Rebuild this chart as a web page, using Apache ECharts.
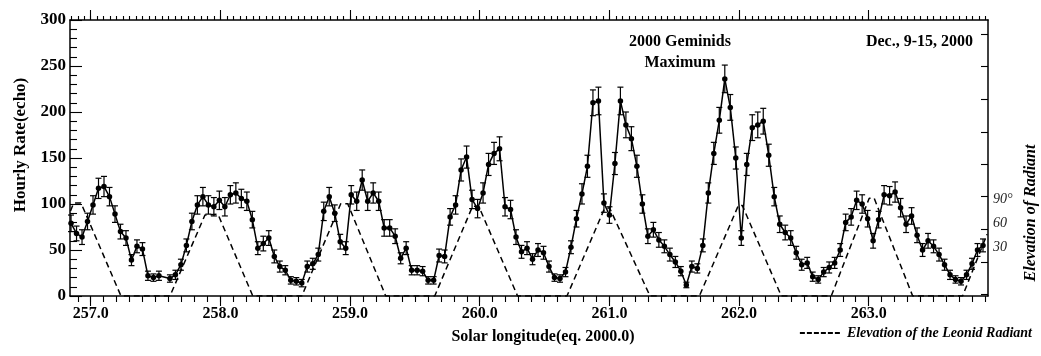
<!DOCTYPE html>
<html>
<head>
<meta charset="utf-8">
<script src="https://cdn.jsdelivr.net/npm/echarts@6/dist/echarts.min.js"></script>
<style>
html,body{margin:0;padding:0;background:#fff;}
#chart{width:1041px;height:356px;}
</style>
</head>
<body>
<div id="chart"></div>
<script>
// ---- data ----
// hourly echo rate, one value per hour starting at solar longitude startLon
const startLon = 256.848;
const lonPerHour = 0.04237;
const hourlyRate = [
  79,68,64,81,99,117,119,108,89,70,63,39,54,51,22,20,22,null,19,23,
  34,55,81,99,108,99,97,104,97,110,112,106,103,83,52,57,63,43,32,28,
  17,16,14,32,35,45,92,108,90,59,52,110,103,126,103,112,103,74,74,65,
  41,52,28,28,27,17,17,44,43,86,99,137,151,105,95,112,143,155,160,97,
  94,64,48,52,40,50,47,32,20,19,26,53,84,111,141,210,212,101,88,144,
  212,186,171,141,100,65,72,61,54,45,37,27,12,32,30,55,112,155,191,236,
  205,150,63,143,183,186,190,153,108,78,69,63,47,34,36,21,18,26,31,36,
  50,80,86,104,100,84,60,83,110,109,113,96,78,87,66,50,60,54,45,34,
  23,18,16,23,35,50,55
];
const rateError = [
  9,8,8,9,10,11,11,10,9,8,8,6,7,7,5,4,5,null,4,5,
  6,7,9,10,10,10,10,10,10,10,11,10,10,9,7,8,8,7,6,5,
  4,4,4,6,6,7,10,10,9,8,7,10,10,11,10,11,10,9,9,8,
  6,7,5,5,5,4,4,7,7,9,10,12,12,10,10,11,12,12,13,10,
  10,8,7,7,6,7,7,6,4,4,5,7,9,11,12,14,15,10,9,12,
  15,14,13,12,10,8,8,8,7,7,6,5,3,6,5,7,11,12,14,15,
  14,12,8,12,14,14,14,12,10,9,8,8,7,6,6,5,4,5,6,6,
  7,9,9,10,10,9,8,9,10,10,11,10,9,9,8,7,8,7,7,6,
  5,4,4,5,6,7,7
];
// elevation of the Leonid radiant (degrees), vertices of the dashed curve
const elevLon = [
  256.844,256.868,256.925,257.233,
  257.611,257.881,257.981,258.250,
  258.628,258.928,258.982,259.275,
  259.653,259.945,259.992,260.292,
  260.673,260.962,261.001,261.313,
  261.694,261.995,262.025,262.326,
  262.711,263.004,263.042,263.339,
  263.724,263.913
];
const elevDeg = [
  75,85,85,-31.25,
  -31.25,70,71,-31.25,
  -31.25,84,84,-31.25,
  -31.25,81,81,-31.25,
  -31.25,78,79,-31.25,
  -31.25,82,82,-31.25,
  -31.25,91,91,-31.25,
  -31.25,46
];
const xTickLabels = [257,258,259,260,261,262,263];
const rightLabels = [30,60,90];
const rightTicks = [-29,11,52,93,133,174,215,256,296];

// ---- axis decoration ----
const xMin = 256.84, xMax = 263.92;
const bottomMinor = [], topMinor = [];
for (let k = 25685; k <= 26390; k += 5) {
  const v = k / 100;
  topMinor.push(v);
  if (k % 10 === 0) bottomMinor.push(v);
}
const FONT = '"Liberation Serif", "DejaVu Serif", serif';
const BLACK = '#000';
const DASH_ICON = 'path://M0,0H5V2H0Z M7,0H12V2H7Z M14,0H19V2H14Z M21,0H26V2H21Z M28,0H33V2H28Z M35,0H40V2H35Z';

const rateData = hourlyRate.map((v, i) => [startLon + i * lonPerHour, v]);
const errData = [];
hourlyRate.forEach((v, i) => {
  if (v !== null) errData.push([startLon + i * lonPerHour, v - rateError[i], v + rateError[i]]);
});
const elevData = elevLon.map((x, i) => [x, elevDeg[i]]);

const axisLineStyle = {color: BLACK, width: 1.5};
const tickStyle = {color: BLACK, width: 1.1};

function xAx(pos, ticks, len, showLine, showLabels) {
  return {
    type: 'value', min: xMin, max: xMax, position: pos,
    axisLine: {show: showLine, onZero: false, lineStyle: axisLineStyle},
    axisTick: {show: true, customValues: ticks, length: len, lineStyle: tickStyle},
    axisLabel: showLabels ? {
      show: true, customValues: ticks, formatter: v => v.toFixed(1),
      color: BLACK, fontFamily: FONT, fontWeight: 'bold', fontSize: 16, margin: 10
    } : {show: false},
    splitLine: {show: false}
  };
}

const chart = echarts.init(document.getElementById('chart'), null, {renderer: 'canvas'});
chart.setOption({
  animation: false,
  backgroundColor: '#fff',
  grid: {left: 70, right: 53, top: 20, bottom: 60, containLabel: false},
  xAxis: [
    xAx('bottom', xTickLabels, 10, true, true),
    xAx('bottom', bottomMinor, 6, false, false),
    xAx('top', xTickLabels, 10, true, false),
    xAx('top', topMinor, 4, false, false)
  ],
  yAxis: [
    {
      type: 'value', min: 0, max: 300, interval: 50, position: 'left',
      axisLine: {show: true, onZero: false, lineStyle: axisLineStyle},
      axisTick: {show: true, inside: true, length: 12, lineStyle: tickStyle},
      minorTick: {show: true, splitNumber: 5, length: 7, lineStyle: tickStyle},
      axisLabel: {color: BLACK, fontFamily: FONT, fontWeight: 'bold', fontSize: 17, margin: 4},
      splitLine: {show: false}
    },
    {
      type: 'value', min: -31.25, max: 313.75, position: 'right',
      axisLine: {show: true, onZero: false, lineStyle: axisLineStyle},
      axisTick: {show: true, inside: true, customValues: rightTicks, length: 7, lineStyle: tickStyle},
      axisLabel: {
        customValues: rightLabels, formatter: v => (v === 90 ? '90°' : String(v)),
        color: '#222', fontFamily: FONT, fontStyle: 'italic', fontSize: 14, margin: 5
      },
      splitLine: {show: false}
    }
  ],
  legend: {
    data: [{name: 'Elevation of the Leonid Radiant', icon: DASH_ICON}],
    right: 4, bottom: 11, itemWidth: 40, itemHeight: 2, itemGap: 4,
    itemStyle: {color: BLACK},
    textStyle: {color: BLACK, fontFamily: FONT, fontStyle: 'italic', fontWeight: 'bold', fontSize: 14, padding: [0, 0, 0, 2]}
  },
  graphic: [
    {type: 'text', x: 21, y: 145, rotation: Math.PI / 2,
     style: {text: 'Hourly Rate(echo)', fill: BLACK, font: 'bold 17px ' + FONT, textAlign: 'center', textVerticalAlign: 'middle'}},
    {type: 'text', x: 1031, y: 213, rotation: Math.PI / 2,
     style: {text: 'Elevation of Radiant', fill: BLACK, font: 'italic bold 16px ' + FONT, textAlign: 'center', textVerticalAlign: 'middle'}},
    {type: 'text', x: 543, y: 337,
     style: {text: 'Solar longitude(eq. 2000.0)', fill: BLACK, font: 'bold 16px ' + FONT, textAlign: 'center', textVerticalAlign: 'middle'}},
    {type: 'text', x: 680, y: 42,
     style: {text: '2000 Geminids', fill: BLACK, font: 'bold 16px ' + FONT, textAlign: 'center', textVerticalAlign: 'middle'}},
    {type: 'text', x: 680, y: 63,
     style: {text: 'Maximum', fill: BLACK, font: 'bold 16px ' + FONT, textAlign: 'center', textVerticalAlign: 'middle'}},
    {type: 'text', x: 973, y: 42,
     style: {text: 'Dec., 9-15, 2000', fill: BLACK, font: 'bold 16px ' + FONT, textAlign: 'right', textVerticalAlign: 'middle'}}
  ],
  series: [
    {
      name: 'Elevation of the Leonid Radiant', type: 'line',
      xAxisIndex: 0, yAxisIndex: 1, data: elevData,
      symbol: 'none', clip: true, z: 1,
      lineStyle: {color: BLACK, width: 1.5, type: [6, 4]},
      itemStyle: {color: BLACK}
    },
    {
      name: 'errors', type: 'custom', xAxisIndex: 0, yAxisIndex: 0, data: errData, z: 2,
      renderItem: function (params, api) {
        const x = api.value(0);
        const lo = api.coord([x, api.value(1)]);
        const hi = api.coord([x, api.value(2)]);
        const cap = 3;
        const st = {stroke: BLACK, lineWidth: 1.2};
        return {type: 'group', children: [
          {type: 'line', shape: {x1: lo[0], y1: lo[1], x2: hi[0], y2: hi[1]}, style: st},
          {type: 'line', shape: {x1: hi[0] - cap, y1: hi[1], x2: hi[0] + cap, y2: hi[1]}, style: st},
          {type: 'line', shape: {x1: lo[0] - cap, y1: lo[1], x2: lo[0] + cap, y2: lo[1]}, style: st}
        ]};
      }
    },
    {
      name: 'Hourly Rate', type: 'line', xAxisIndex: 0, yAxisIndex: 0, data: rateData,
      connectNulls: true, symbol: 'circle', symbolSize: 5.5, showAllSymbol: true, z: 3,
      lineStyle: {color: BLACK, width: 1.5}, itemStyle: {color: BLACK}
    }
  ]
});
</script>
</body>
</html>
